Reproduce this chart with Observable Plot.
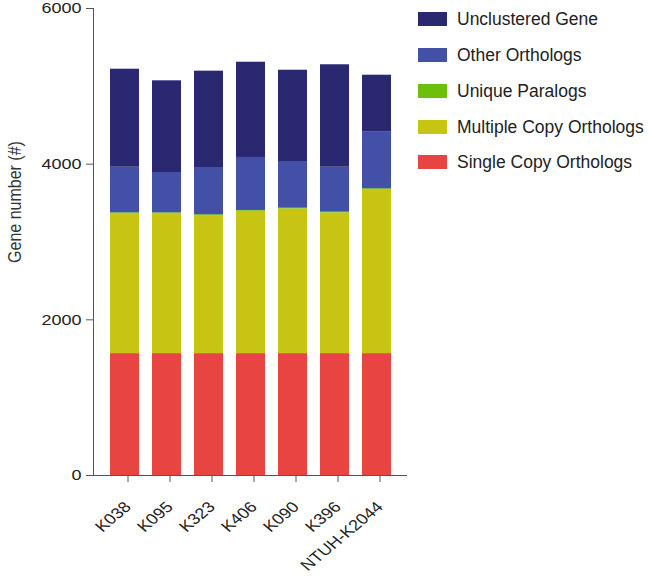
<!DOCTYPE html>
<html><head><meta charset="utf-8">
<script src="https://cdn.jsdelivr.net/npm/d3@7"></script>
<script src="https://cdn.jsdelivr.net/npm/@observablehq/plot@0.6"></script>
<style>
body{margin:0;background:#fff;font-family:"Liberation Sans",Arial,sans-serif;}
#wrap{position:relative;width:649px;height:580px;overflow:hidden;}
#ylabel{position:absolute;left:15px;top:202px;transform:translate(-50%,-50%) scale(1.18,1) rotate(-90deg);white-space:nowrap;font-size:16px;color:#333;}
#legend{position:absolute;left:418px;top:0;}
.item{position:absolute;left:0;height:20px;display:flex;align-items:center;white-space:nowrap;font-size:17.5px;color:#222;}
.sw{width:29px;height:14px;margin-right:10px;flex:none;}
</style></head><body><div id="wrap"><div id="ylabel"></div><div id="legend"></div></div>
<script>
const samples = ["K038","K095","K323","K406","K090","K396","NTUH-K2044"];
const categories = ["Single Copy Orthologs","Multiple Copy Orthologs","Unique Paralogs","Other Orthologs","Unclustered Gene"];
const colors = ["#e84542","#c8c414","#6cc00c","#4350a8","#2b2872"];
const singleCopy   = [1566,1566,1566,1566,1566,1566,1566];
const multipleCopy = [1799,1799,1774,1829,1858,1807,2108];
const uniqueParalogs = [10,10,10,10,10,10,10];
const otherOrthologs = [586,518,607,681,600,578,727];
const unclustered  = [1259,1178,1238,1224,1173,1316,732];
const yTicks = [0,2000,4000,6000];
const yLabel = "Gene number (#)";

const series = [singleCopy, multipleCopy, uniqueParalogs, otherOrthologs, unclustered];
const data = [];
categories.forEach((c, ci) => samples.forEach((s, i) => data.push({sample: s, category: c, value: series[ci][i]})));

const plot = Plot.plot({
  width: 649, height: 580,
  marginLeft: 93, marginRight: 242, marginTop: 8, marginBottom: 105,
  style: {fontFamily: "'Liberation Sans', Arial, sans-serif", fontSize: "15px", color: "#222", background: "white"},
  x: {domain: samples, paddingInner: 0.32, paddingOuter: 0.35, align: 0.5},
  y: {domain: [0, 6000]},
  color: {domain: categories, range: colors},
  marks: [
    Plot.barY(data, {x: "sample", y: "value", fill: "category"}),
    Plot.ruleY([0], {stroke: "#555"}),
    Plot.frame({anchor: "left", stroke: "#555"}),
    Plot.axisY({ticks: yTicks, tickSize: 7, tickPadding: 5, label: null, stroke: "#555", fontSize: 15, tickFormat: d => String(d)}),
    Plot.axisX({tickSize: 7, tickRotate: -45, tickPadding: 22, dx: 3, label: null, stroke: "#555", fontSize: 15})
  ]
});
// horizontal stretch of axis texts, as in the reference
plot.querySelectorAll('g[aria-label$="tick label"] text').forEach(t => {
  const tr = t.getAttribute("transform") || "";
  if (tr.includes("rotate(")) t.setAttribute("transform", tr.replace("rotate(", "scale(1.2,1) rotate("));
  else t.setAttribute("transform", tr + " scale(1.2,1)");
});
const wrap = document.getElementById("wrap");
wrap.insertBefore(plot, wrap.firstChild);
document.getElementById("ylabel").textContent = yLabel;

const legend = document.getElementById("legend");
const rowCenters = [19, 55, 91, 127, 162];
categories.slice().reverse().forEach((c, k) => {
  const idx = categories.indexOf(c);
  const it = document.createElement("div");
  it.className = "item";
  it.style.top = (rowCenters[k] - 10) + "px";
  const sw = document.createElement("div");
  sw.className = "sw"; sw.style.background = colors[idx];
  const t = document.createElement("span"); t.textContent = c;
  it.appendChild(sw); it.appendChild(t);
  legend.appendChild(it);
});
</script></body></html>
